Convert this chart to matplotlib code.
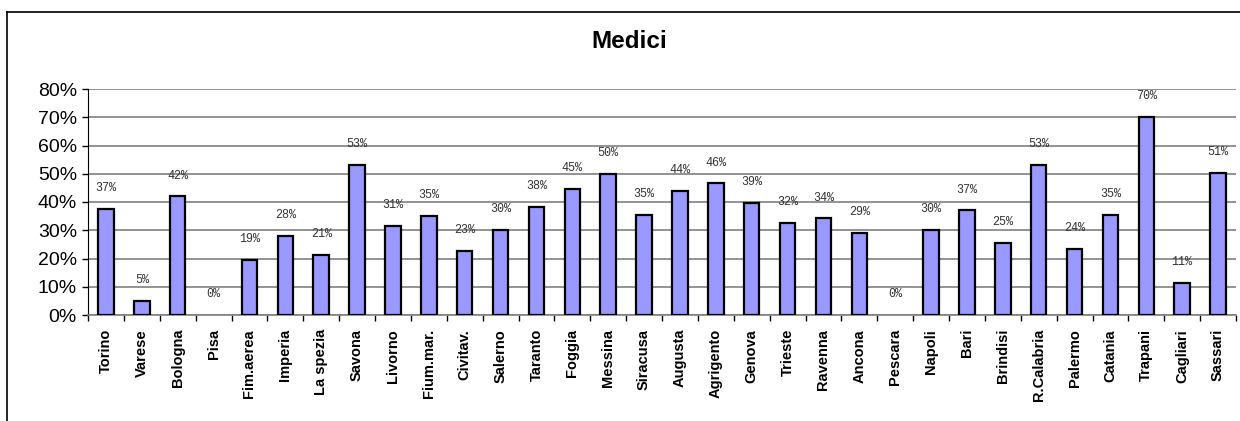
import matplotlib
matplotlib.use("Agg")
import matplotlib.pyplot as plt
from matplotlib.lines import Line2D
import numpy as np

categories = ["Torino", "Varese", "Bologna", "Pisa", "Fim.aerea", "Imperia", "La spezia",
              "Savona", "Livorno", "Fium.mar.", "Civitav.", "Salerno", "Taranto", "Foggia",
              "Messina", "Siracusa", "Augusta", "Agrigento", "Genova", "Trieste", "Ravenna",
              "Ancona", "Pescara", "Napoli", "Bari", "Brindisi", "R.Calabria", "Palermo",
              "Catania", "Trapani", "Cagliari", "Sassari"]
values = [37.5, 5, 42, 0, 19.4, 28, 21.4, 53, 31.4, 35, 22.8, 30, 38.4, 44.6,
          50, 35.4, 44, 46.6, 39.6, 32.6, 34.2, 29.2, 0, 30, 37, 25.6, 53, 23.4,
          35.4, 70, 11.4, 50.2]
labels = ["37%", "5%", "42%", "0%", "19%", "28%", "21%", "53%", "31%", "35%", "23%", "30%",
          "38%", "45%", "50%", "35%", "44%", "46%", "39%", "32%", "34%", "29%", "0%", "30%",
          "37%", "25%", "53%", "24%", "35%", "70%", "11%", "51%"]
yticks = [0, 10, 20, 30, 40, 50, 60, 70, 80]

W, H = 1240, 421
fig = plt.figure(figsize=(W / 100, H / 100), dpi=100)
ax = fig.add_axes([88 / W, 1 - 315 / H, (1236 - 88) / W, (315 - 89) / H])

x = np.arange(len(categories))
bars = ax.bar(x, values, width=0.43, color="#9999FF", edgecolor="black", linewidth=1.6, zorder=3)
for b, v in zip(bars, values):
    if v == 0:
        b.set_linewidth(0)
ax.set_xlim(-0.5, len(categories) - 0.5)
ax.set_ylim(0, 80)
ax.set_yticks(yticks)
ax.set_yticklabels([f"{v}%" for v in yticks], fontsize=14, family="Liberation Sans")
ax.yaxis.grid(True, color="#808080", linewidth=1.2, zorder=0)
ax.tick_params(axis="y", length=4, width=1, color="black", pad=4)

ax.set_xticks(x)
ax.set_xticklabels(categories, rotation=90, fontsize=10.5, fontweight="bold",
                   family="Liberation Sans", va="top", ha="center")
ax.tick_params(axis="x", length=0, pad=10)
ax.set_xticks(np.arange(len(categories) + 1) - 0.5, minor=True)
ax.tick_params(axis="x", which="minor", length=4, width=1, color="black")

for s in ["top", "right"]:
    ax.spines[s].set_visible(False)
ax.spines["left"].set_color("black")
ax.spines["bottom"].set_color("#808080")
ax.spines["bottom"].set_linewidth(1.2)

for xi, v, lab in zip(x, values, labels):
    ax.annotate(lab, (xi, v), xytext=(0, 15), textcoords="offset points",
                ha="center", va="center", fontsize=8.5, family="Liberation Mono", color="#333333")

fig.text(629 / W, 1 - 41 / H, "Medici", ha="center", va="center", fontsize=17.5,
         fontweight="bold", family="Liberation Sans")

fig.add_artist(Line2D([7 / W, 7 / W], [0, 1 - 12 / H], transform=fig.transFigure, color="black", linewidth=1.2))
fig.add_artist(Line2D([7 / W, 1], [1 - 12 / H, 1 - 12 / H], transform=fig.transFigure, color="black", linewidth=1.2))

fig.savefig("out.png", dpi=100, facecolor="white")
